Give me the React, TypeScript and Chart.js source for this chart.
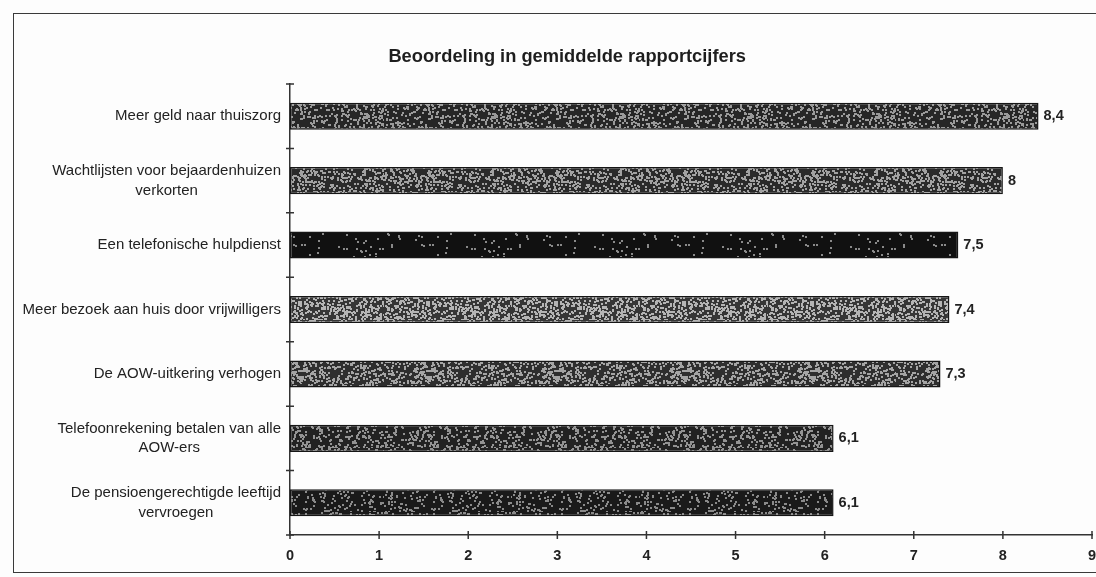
import React, { useEffect, useRef } from "react";
import { Chart, registerables } from "chart.js";

Chart.register(...registerables);

const titleText = "Beoordeling in gemiddelde rapportcijfers";
const categories: string[][] = [
  ["Meer geld naar thuiszorg"],
  ["Wachtlijsten voor bejaardenhuizen", "verkorten"],
  ["Een telefonische hulpdienst"],
  ["Meer bezoek aan huis door vrijwilligers"],
  ["De AOW-uitkering verhogen"],
  ["Telefoonrekening betalen van alle", "AOW-ers"],
  ["De pensioengerechtigde leeftijd", "vervroegen"],
];
const values = [8.4, 8, 7.5, 7.4, 7.3, 6.1, 6.1];
const valueLabels = ["8,4", "8", "7,5", "7,4", "7,3", "6,1", "6,1"];
const xMin = 0;
const xMax = 9;
const xStep = 1;

// texture styles per bar: [dark, light, share of light grains]
const textures: [string, string, number][] = [
  ["#262626", "#9a9a9a", 0.4],
  ["#2a2a2a", "#a2a2a2", 0.42],
  ["#111111", "#8a8a8a", 0.05],
  ["#363636", "#b4b4b4", 0.5],
  ["#2e2e2e", "#a4a4a4", 0.44],
  ["#222222", "#939393", 0.34],
  ["#1a1a1a", "#8a8a8a", 0.24],
];

function grain(x: number, y: number, s: number): number {
  let n = (Math.imul(x, 374761393) + Math.imul(y, 668265263) + Math.imul(s, 982451653)) | 0;
  n = Math.imul(n ^ (n >>> 13), 1274126177);
  n = n ^ (n >>> 16);
  return (n >>> 0) / 4294967296;
}

function makePattern(dark: string, light: string, share: number, seed: number): CanvasPattern | string {
  const c = document.createElement("canvas");
  c.width = 128;
  c.height = 64;
  const g = c.getContext("2d");
  if (!g) return dark;
  g.fillStyle = dark;
  g.fillRect(0, 0, 128, 64);
  g.fillStyle = light;
  for (let y = 0; y < 64; y++) {
    for (let x = 0; x < 128; x++) {
      const r = grain(x, y, seed);
      if (r < share * 0.25) g.fillRect(x, y, 2, 2);
    }
  }
  const p = g.createPattern(c, "repeat");
  return p || dark;
}

const FONT = "'Liberation Sans', Arial, sans-serif";

const customDraw = {
  id: "customDraw",
  afterDraw(chart: any) {
    const ctx: CanvasRenderingContext2D = chart.ctx;
    const area = chart.chartArea;
    const xs = chart.scales.x;
    const ys = chart.scales.y;
    ctx.save();
    // title
    ctx.fillStyle = "#1e1e1e";
    ctx.font = `bold 18.3px ${FONT}`;
    ctx.textAlign = "center";
    ctx.textBaseline = "middle";
    ctx.fillText(titleText, chart.width * 0.5175, 57);

    // category labels: right-aligned block, centered lines
    ctx.font = `15px ${FONT}`;
    ctx.fillStyle = "#222";
    const lh = 19.5;
    categories.forEach((lines, i) => {
      const yc = ys.getPixelForValue(i);
      const maxW = Math.max(...lines.map((l) => ctx.measureText(l).width));
      const cx = area.left - 9 - maxW / 2;
      const y0 = yc - ((lines.length - 1) * lh) / 2;
      lines.forEach((l, k) => ctx.fillText(l, cx, y0 + k * lh));
    });

    // value labels
    ctx.font = `bold 14.5px ${FONT}`;
    ctx.textAlign = "left";
    const meta = chart.getDatasetMeta(0);
    meta.data.forEach((bar: any, i: number) => {
      ctx.fillText(valueLabels[i], bar.x + 5, bar.y);
    });

    // crossing tick marks
    ctx.strokeStyle = "#333";
    ctx.lineWidth = 1.5;
    ctx.beginPath();
    xs.ticks.forEach((t: any) => {
      const px = xs.getPixelForValue(t.value);
      ctx.moveTo(px, area.bottom - 4);
      ctx.lineTo(px, area.bottom + 4);
    });
    const n = categories.length;
    for (let i = 0; i <= n; i++) {
      const py = area.top + (i * (area.bottom - area.top)) / n;
      ctx.moveTo(area.left - 4, py);
      ctx.lineTo(area.left + 4, py);
    }
    ctx.stroke();
    ctx.restore();
  },
};

export default function App() {
  const ref = useRef<HTMLCanvasElement | null>(null);
  useEffect(() => {
    if (!ref.current) return;
    const patterns = textures.map((t, i) => makePattern(t[0], t[1], t[2], i + 1));
    const chart = new Chart(ref.current, {
      type: "bar",
      data: {
        labels: categories,
        datasets: [
          {
            data: values,
            backgroundColor: patterns as any,
            borderColor: "#161616",
            borderWidth: 1.5,
            borderSkipped: false,
            categoryPercentage: 1,
            barPercentage: 0.42,
          },
        ],
      },
      options: {
        indexAxis: "y",
        animation: false,
        responsive: false,
        devicePixelRatio: 1,
        layout: { padding: { left: 0, top: 84, right: 4, bottom: 0 } },
        plugins: {
          legend: { display: false },
          title: { display: false },
          tooltip: { enabled: false },
        },
        scales: {
          x: {
            min: xMin,
            max: xMax,
            ticks: {
              stepSize: xStep,
              color: "#222",
              font: { family: FONT, size: 14.5, weight: "bold" },
              padding: 12,
            },
            grid: { display: false, drawTicks: false },
            border: { display: true, color: "#333", width: 1.5 },
            afterFit: (s: any) => {
              s.height = 42;
              s.paddingLeft = 0;
              s.paddingRight = 0;
            },
          },
          y: {
            ticks: { display: false },
            grid: { display: false, drawTicks: false },
            border: { display: true, color: "#333", width: 1.5 },
            afterFit: (s: any) => {
              s.width = 290;
            },
          },
        },
      },
      plugins: [customDraw],
    });
    return () => chart.destroy();
  }, []);

  return (
    <div
      style={{
        position: "absolute",
        left: 0,
        top: 0,
        width: 1096,
        height: 577,
        overflow: "hidden",
        background: "#fdfdfd",
      }}
    >
      <div
        style={{
          position: "absolute",
          left: 13,
          top: 13,
          width: 1100,
          height: 560,
          border: "1.5px solid #3a3a3a",
          boxSizing: "border-box",
        }}
      />
      <canvas
        ref={ref}
        width={1096}
        height={577}
        style={{ position: "absolute", left: 0, top: 0, width: 1096, height: 577 }}
      />
    </div>
  );
}
